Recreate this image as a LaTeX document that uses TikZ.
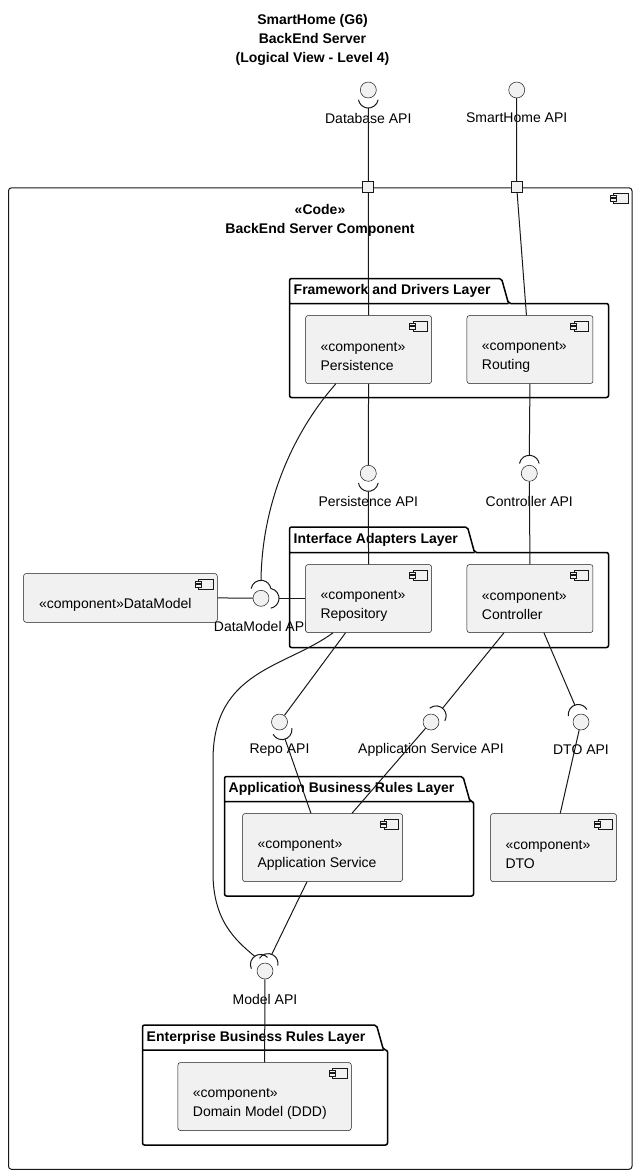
\documentclass[tikz,border=0pt]{standalone}
\usepackage{fontspec}
\setmainfont{Liberation Sans}
\usetikzlibrary{calc}
\definecolor{compfill}{HTML}{F1F1F1}
\definecolor{compline}{HTML}{181818}

\begin{document}
\begin{tikzpicture}[x=1pt, y=-1pt, font=\fontsize{14}{19}\selectfont]
			\tikzstyle{comp}=[
			draw=compline,
			fill=compfill,
			line width=0.5pt,
			rounded corners=2.5pt,
			anchor=north west,
			minimum width=126pt,
			minimum height=68pt,
			inner sep=0pt
			]
			\tikzstyle{ctext}=[anchor=west, align=left, inner sep=0pt]
			\tikzstyle{iface}=[circle, draw=compline, fill=compfill, line width=0.5pt, minimum size=16pt, inner sep=0pt]
			\tikzstyle{port}=[rectangle, draw=compline, fill=compfill, line width=1pt, minimum size=11pt, inner sep=0pt]
			\tikzstyle{pkg}=[draw=black, line width=1.5pt, rounded corners=2pt]
			\tikzstyle{ptitle}=[anchor=west, inner sep=0pt, font=\fontsize{14}{19}\selectfont\bfseries]
			\tikzstyle{lbl}=[inner sep=0pt]
			\tikzstyle{link}=[draw=compline, line width=1pt]
			\tikzstyle{socket}=[draw=compline, line width=1pt]
			\useasboundingbox (0,0) rectangle (637,1174);
			%
			\node[align=center, font=\fontsize{14}{19}\selectfont\bfseries] (title) at (312.5,39.5) {SmartHome (G6)\\BackEnd Server\\(Logical View - Level 4)};
			\node[draw=compline, line width=1pt, rounded corners=3pt, anchor=north west, minimum width=623.5pt, minimum height=981.5pt, inner sep=0pt] (code) at (8,187.3) {};
			\node[align=center, font=\fontsize{14}{19}\selectfont\bfseries] (code-t) at (320,220.5) {«Code»\\BackEnd Server Component};
			\coordinate (p1) at (368.3,187.3);
			\coordinate (p2) at (516.7,187.3);
			%
			\foreach \n/\xa/\ta/\tr/\tb/\xb/\yb/\t in {
				fdl/289.5/278.5/508.5/303.5/608.5/397.5/Framework and Drivers Layer,
				ial/289.5/527/474.5/552.5/608.5/647.5/Interface Adapters Layer,
				abr/224.5/776.5/470/801.5/473.5/896/Application Business Rules Layer,
				ebr/142.5/1025/383.5/1050/387.5/1145/Enterprise Business Rules Layer}
			{
				\draw[pkg] (\xa,\tb) -- (\xa,\ta) -- (\tr-7,\ta) -- (\tr,\tb) -- (\xb,\tb) -- (\xb,\yb) -- (\xa,\yb) -- cycle (\xa,\tb) -- (\tr,\tb);
				\node[ptitle] (\n) at (\xa+4,\ta+12.5) {\t};
			}
			%
			\foreach \n/\x/\y/\t in {
				dbapi/368.3/90/Database API,
				shapi/516.7/90/SmartHome API,
				persapi/368.3/473.3/Persistence API,
				ctrlapi/529.3/473.3/Controller API,
				dmapi/261/598.3/DataModel API,
				repoapi/279.5/722/Repo API,
				asapi/431/722/Application Service API,
				dtoapi/581/722/DTO API,
				modelapi/265/971/Model API}
			{
				\node[iface] (\n) at (\x,\y) {};
				\node[lbl] (\n-l) at (\x,\y+28) {\t};
			}
			%
			\node[comp] (pers) at (305.3,315.3) {};
			\node[ctext] (pers-t) at ([shift={(15,7)}]pers.west) {«component»\\Persistence};
			\node[comp] (rout) at (466.7,315.3) {};
			\node[ctext] (rout-t) at ([shift={(15,7)}]rout.west) {«component»\\Routing};
			\node[comp] (repo) at (305.3,564.3) {};
			\node[ctext] (repo-t) at ([shift={(15,7)}]repo.west) {«component»\\Repository};
			\node[comp] (ctrl) at (466.7,564.3) {};
			\node[ctext] (ctrl-t) at ([shift={(15,7)}]ctrl.west) {«component»\\Controller};
			\node[comp, minimum width=193.7pt, minimum height=48.7pt] (dmod) at (23.3,573.3) {};
			\node[ctext] (dmod-t) at ([shift={(15.5,7)}]dmod.west) {«component»DataModel};
			\node[comp, minimum width=160pt] (appsvc) at (242.3,813.3) {};
			\node[ctext] (appsvc-t) at ([shift={(15,7)}]appsvc.west) {«component»\\Application Service};
			\node[comp] (dto) at (490.3,813.3) {};
			\node[ctext] (dto-t) at ([shift={(15,7)}]dto.west) {«component»\\DTO};
			\node[comp, minimum width=173.3pt] (domain) at (177.7,1062.3) {};
			\node[ctext] (domain-t) at ([shift={(15,7)}]domain.west) {«component»\\Domain Model (DDD)};
			%
			\foreach \c in {code,pers,rout,repo,ctrl,dmod,appsvc,dto,domain}
			{
				\draw[draw=compline, fill=compfill, line width=0.5pt] ([shift={(-19,5.5)}]\c.north east) rectangle ([shift={(-4.5,15.5)}]\c.north east);
				\draw[draw=compline, fill=compfill, line width=0.5pt] ([shift={(-22.5,7.5)}]\c.north east) rectangle ([shift={(-16.5,10)}]\c.north east);
				\draw[draw=compline, fill=compfill, line width=0.5pt] ([shift={(-22.5,11)}]\c.north east) rectangle ([shift={(-16.5,13.5)}]\c.north east);
			}
			%
			\draw[link] ([shift={(90:18)}]dbapi.center) -- (p1) -- (pers.north);
			\draw[link] (shapi) -- (p2) -- ([shift={(-3.5,0)}]rout.north);
			\draw[link] (pers.south) -- (persapi);
			\draw[link] ([shift={(90:18)}]persapi.center) -- (repo.north);
			\draw[link] (rout.south) -- ([shift={(-90:18)}]ctrlapi.center);
			\draw[link] (ctrlapi) -- (ctrl.north);
			\draw[link] (dmod.east) -- (dmapi);
			\draw[link] ([shift={(0:18)}]dmapi.center) -- (dmapi -| repo.west);
			\draw[link] ([shift={(-32.7,0)}]pers.south) .. controls (295,430) and (262,500) .. ([shift={(-90:18)}]dmapi.center);
			\draw[link] ([shift={(-35.5,0)}]repo.south) .. controls (285,668) and (213,670) .. (213,760) -- (213,873) .. controls (213,920) and (235,940) .. ([shift={(-125:18)}]modelapi.center);
			\draw[link] ([shift={(-23,0)}]repo.south) -- (repoapi);
			\draw[link] ([shift={(72:18)}]repoapi.center) -- ([shift={(-11.6,0)}]appsvc.north);
			\draw[link] ([shift={(-26,0)}]ctrl.south) -- ([shift={(-50:18)}]asapi.center);
			\draw[link] (asapi) -- ([shift={(29.4,0)}]appsvc.north);
			\draw[link] ([shift={(14,0)}]ctrl.south) -- ([shift={(-110:18)}]dtoapi.center);
			\draw[link] (dtoapi) -- ([shift={(6.7,0)}]dto.north);
			\draw[link] ([shift={(-15.6,0)}]appsvc.south) -- ([shift={(-68:18)}]modelapi.center);
			\draw[link] (modelapi) -- (domain.north);
			%
			\foreach \n/\a in {dbapi/90, persapi/90, ctrlapi/-90, dmapi/0, dmapi/-90, repoapi/72, asapi/-50, dtoapi/-110, modelapi/-125, modelapi/-68}
				\draw[socket] ([shift={(\a:8)}]\n.center) ++(\a-80:10) arc[start angle=\a-80, end angle=\a+80, radius=10];
			%
			\node[port] (port1) at (p1) {};
			\node[port] (port2) at (p2) {};
		\end{tikzpicture}
\end{document}
